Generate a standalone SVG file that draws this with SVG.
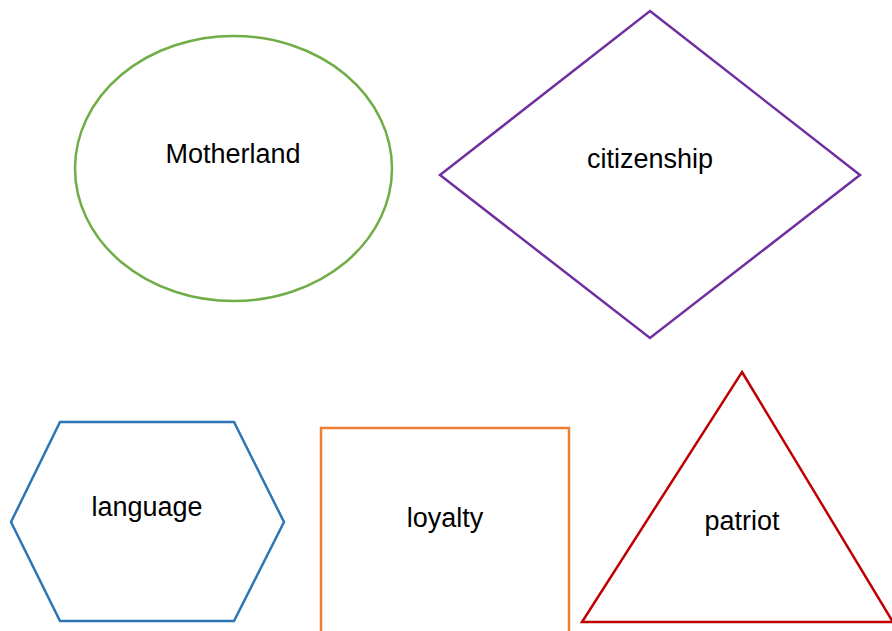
<svg xmlns="http://www.w3.org/2000/svg" width="892" height="631" viewBox="0 0 892 631">
<style>
.s{fill:#ffffff;stroke-width:2.5}
.t{font-family:"Liberation Sans",Arial,sans-serif;font-size:27px;fill:#000;text-anchor:middle}
</style>
<rect width="892" height="631" fill="#ffffff"/>
<g id="motherland">
<ellipse class="s" cx="233.5" cy="168.5" rx="158.5" ry="132.5" stroke="#70AD47"/>
<text class="t" x="233" y="163">Motherland</text>
</g>
<g id="citizenship">
<polygon class="s" points="650,11 860,175 650,338 440,175" stroke="#7030A0"/>
<text class="t" x="650" y="168">citizenship</text>
</g>
<g id="language">
<polygon class="s" points="60,422 234,422 284,522 234,621 60,621 11,522" stroke="#2E75B6"/>
<text class="t" x="147" y="516">language</text>
</g>
<g id="loyalty">
<rect class="s" x="321" y="428" width="248" height="210" stroke="#ED7D31"/>
<text class="t" x="445" y="527">loyalty</text>
</g>
<g id="patriot">
<polygon class="s" points="742,372 893,622 582,622" stroke="#C00000"/>
<text class="t" x="742" y="530">patriot</text>
</g>
<g id="connectors"></g>
</svg>
